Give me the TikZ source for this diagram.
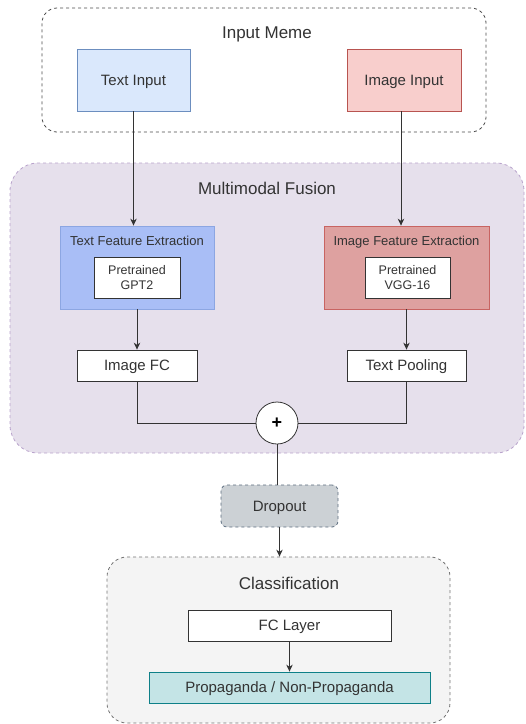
\documentclass[tikz,border=0pt]{standalone}
\usepackage{fontspec}
\setmainfont{Liberation Sans}
\usetikzlibrary{positioning, arrows.meta}
\definecolor{txtgray}{HTML}{333333}
\definecolor{linegray}{HTML}{333333}
\definecolor{blueFill}{HTML}{DAE8FC}
\definecolor{blueLine}{HTML}{6C8EBF}
\definecolor{redFill}{HTML}{F8CECC}
\definecolor{redLine}{HTML}{B85450}
\definecolor{fusionFill}{HTML}{E6E0EC}
\definecolor{fusionLine}{HTML}{B9A3CC}
\definecolor{tfeFill}{HTML}{A9BEF6}
\definecolor{tfeLine}{HTML}{8CA6E2}
\definecolor{ifeFill}{HTML}{DEA1A0}
\definecolor{ifeLine}{HTML}{C86462}
\definecolor{dropFill}{HTML}{CCD1D5}
\definecolor{dropLine}{HTML}{5B6C7E}
\definecolor{clsFill}{HTML}{F4F4F4}
\definecolor{propFill}{HTML}{C4E4E6}
\definecolor{propLine}{HTML}{0E8088}

\begin{document}
\begin{tikzpicture}[>={Stealth[length=7pt, width=6.5pt]}, x=1pt, y=-1pt,
    every node/.style={text=txtgray, inner sep=0pt, align=center},
    oneline/.style={text height=#1, text depth=0pt},
    group/.style={draw=#1, dashed, line width=0.8pt},
    box/.style={draw=black!80, fill=white, line width=0.8pt, oneline=10.7pt, font=\fontsize{15}{17}\selectfont},
    title/.style={oneline=12.2pt, font=\fontsize{17}{19}\selectfont},
    subtitle/.style={oneline=9.3pt, font=\fontsize{13}{15}\selectfont},
    inner/.style={draw=black!80, fill=white, line width=0.8pt, font=\fontsize{12.5}{15}\selectfont},
    conn/.style={draw=linegray, line width=0.9pt}]
    \useasboundingbox (0, 0) rectangle (526, 724);

    % 输入
    \node[group=black!70, fill=white, rounded corners=15pt, minimum width=444pt, minimum height=124pt] (meme) at (264, 70) {};
    \node[title] (memetitle) at (267, 32) {Input Meme};
    \node[box, draw=blueLine, fill=blueFill, minimum width=113pt, minimum height=62pt] (textin) at (133.5, 80) {Text Input};
    \node[box, draw=redLine, fill=redFill, minimum width=114pt, minimum height=62pt] (imgin) at (404, 80) {Image Input};

    % 融合
    \node[group=fusionLine, fill=fusionFill, rounded corners=28pt, minimum width=514pt, minimum height=290pt] (fusion) at (267, 308) {};
    \node[title] (fusiontitle) at (267, 188) {Multimodal Fusion};
    \node[box, draw=tfeLine, fill=tfeFill, minimum width=154pt, minimum height=83pt] (textfe) at (137, 267.5) {};
    \node[subtitle] (textfetitle) at (137, 241) {Text Feature Extraction};
    \node[inner, minimum width=86pt, minimum height=41pt] (gpt) at (137, 277.5) {Pretrained\\GPT2};
    \node[box, draw=ifeLine, fill=ifeFill, minimum width=165pt, minimum height=83pt] (imgfe) at (406.5, 267.5) {};
    \node[subtitle] (imgfetitle) at (406.5, 241) {Image Feature Extraction};
    \node[inner, minimum width=85pt, minimum height=41pt] (vgg) at (407.5, 277.5) {Pretrained\\VGG-16};
    \node[box, minimum width=120pt, minimum height=31pt] (imgfc) at (137, 365.5) {Image FC};
    \node[box, minimum width=119pt, minimum height=31pt] (txtpool) at (406.5, 365.5) {Text Pooling};
    \node[box, circle, minimum size=42pt, oneline=10pt, font=\fontsize{18}{18}\selectfont\bfseries, text=black] (plus) at (277, 423) {+};

    % 分类
    \node[group=dropLine, oneline=10.7pt, fill=dropFill, rounded corners=6pt, minimum width=117pt, minimum height=42pt, font=\fontsize{15}{17}\selectfont] (dropout) at (279.5, 506) {Dropout};
    \node[group=black!55, fill=clsFill, rounded corners=20pt, minimum width=343pt, minimum height=166pt] (classif) at (278.5, 640) {};
    \node[title] (classiftitle) at (289, 583) {Classification};
    \node[box, minimum width=203pt, minimum height=31pt] (fclayer) at (289.5, 625.5) {FC Layer};
    \node[box, draw=propLine, fill=propFill, minimum width=281pt, minimum height=31pt] (prop) at (289.5, 687.5) {Propaganda / Non-Propaganda};

    \draw[conn, ->] (textin.south) -- (textin.south |- textfe.north);
    \draw[conn, ->] ([xshift=-3pt]imgin.south) -- ([xshift=-3pt]imgin.south |- imgfe.north);
    \draw[conn, ->] (textfe.south) -- (imgfc.north);
    \draw[conn, ->] (imgfe.south) -- (txtpool.north);
    \draw[conn] (imgfc.south) |- (plus.west);
    \draw[conn] (txtpool.south) |- (plus.east);
    \draw[conn] (plus.south) -- (plus.south |- dropout.north);
    \draw[conn, ->] (dropout.south) -- (dropout.south |- classif.north);
    \draw[conn, ->] (fclayer.south) -- (prop.north);
\end{tikzpicture}
\end{document}
